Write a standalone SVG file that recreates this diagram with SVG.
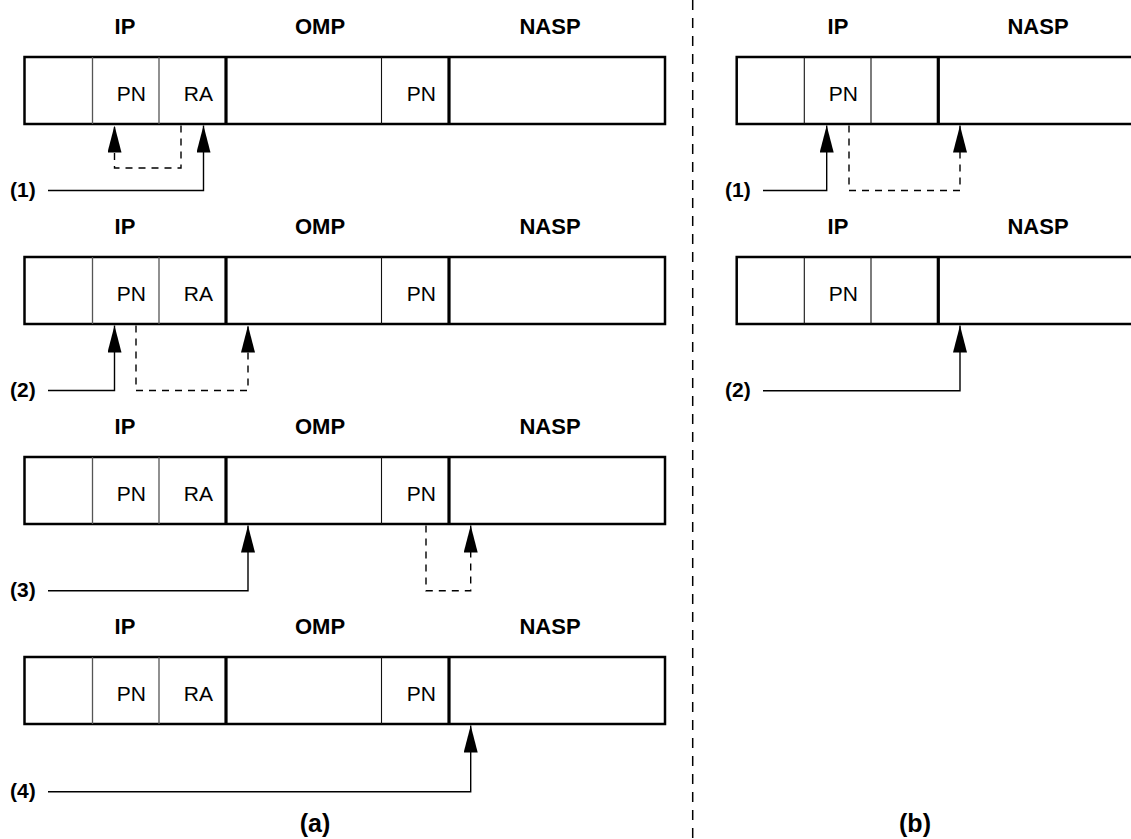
<svg xmlns="http://www.w3.org/2000/svg" width="1131" height="839" viewBox="0 0 1131 839">
<style>
.box{fill:#fff;stroke:#000;stroke-width:2.5}
.thin{stroke:#555;stroke-width:1.3}
.thinb{stroke:#111;stroke-width:1.1}
.thick{stroke:#000;stroke-width:3.2}
.lbl{font-family:"Liberation Sans",Arial,sans-serif;font-weight:bold;font-size:22px;text-anchor:middle;fill:#000}
.cell{font-family:"Liberation Sans",Arial,sans-serif;font-size:21px;text-anchor:end;fill:#000}
.num{font-family:"Liberation Sans",Arial,sans-serif;font-weight:bold;font-size:21px;fill:#000}
.cap{font-family:"Liberation Sans",Arial,sans-serif;font-weight:bold;font-size:25px;text-anchor:middle;fill:#000}
.solid{fill:none;stroke:#000;stroke-width:1.4;marker-end:url(#ah)}
.dash{fill:none;stroke:#000;stroke-width:1.4;stroke-dasharray:7 6;marker-end:url(#ah)}
.sep{stroke:#000;stroke-width:1.5;stroke-dasharray:10 8}
</style>
<defs>
<marker id="ah" viewBox="0 0 27 14" refX="27" refY="7" markerWidth="27" markerHeight="14" markerUnits="userSpaceOnUse" orient="auto">
<path d="M0,0 L27,7 L0,14 z" fill="#000"/>
</marker>
</defs>
<line class="sep" x1="692.7" y1="0" x2="692.7" y2="839"/>

<g id="a-row1">
<text class="lbl" x="125" y="34">IP</text><text class="lbl" x="320" y="34">OMP</text><text class="lbl" x="550" y="34">NASP</text>
<rect class="box" x="24.5" y="57" width="640.5" height="67"/>
<line class="thin" x1="92.5" y1="57" x2="92.5" y2="124"/><line class="thin" x1="159" y1="57" x2="159" y2="124"/><line class="thinb" x1="381.5" y1="57" x2="381.5" y2="124"/>
<line class="thick" x1="226" y1="57" x2="226" y2="124"/><line class="thick" x1="449" y1="57" x2="449" y2="124"/>
<text class="cell" x="146" y="101">PN</text><text class="cell" x="213" y="101">RA</text><text class="cell" x="436" y="101">PN</text>
</g>
<g id="a-row2">
<text class="lbl" x="125" y="234">IP</text><text class="lbl" x="320" y="234">OMP</text><text class="lbl" x="550" y="234">NASP</text>
<rect class="box" x="24.5" y="257" width="640.5" height="67"/>
<line class="thin" x1="92.5" y1="257" x2="92.5" y2="324"/><line class="thin" x1="159" y1="257" x2="159" y2="324"/><line class="thinb" x1="381.5" y1="257" x2="381.5" y2="324"/>
<line class="thick" x1="226" y1="257" x2="226" y2="324"/><line class="thick" x1="449" y1="257" x2="449" y2="324"/>
<text class="cell" x="146" y="301">PN</text><text class="cell" x="213" y="301">RA</text><text class="cell" x="436" y="301">PN</text>
</g>
<g id="a-row3">
<text class="lbl" x="125" y="434">IP</text><text class="lbl" x="320" y="434">OMP</text><text class="lbl" x="550" y="434">NASP</text>
<rect class="box" x="24.5" y="457" width="640.5" height="67"/>
<line class="thin" x1="92.5" y1="457" x2="92.5" y2="524"/><line class="thin" x1="159" y1="457" x2="159" y2="524"/><line class="thinb" x1="381.5" y1="457" x2="381.5" y2="524"/>
<line class="thick" x1="226" y1="457" x2="226" y2="524"/><line class="thick" x1="449" y1="457" x2="449" y2="524"/>
<text class="cell" x="146" y="501">PN</text><text class="cell" x="213" y="501">RA</text><text class="cell" x="436" y="501">PN</text>
</g>
<g id="a-row4">
<text class="lbl" x="125" y="634">IP</text><text class="lbl" x="320" y="634">OMP</text><text class="lbl" x="550" y="634">NASP</text>
<rect class="box" x="24.5" y="657" width="640.5" height="67"/>
<line class="thin" x1="92.5" y1="657" x2="92.5" y2="724"/><line class="thin" x1="159" y1="657" x2="159" y2="724"/><line class="thinb" x1="381.5" y1="657" x2="381.5" y2="724"/>
<line class="thick" x1="226" y1="657" x2="226" y2="724"/><line class="thick" x1="449" y1="657" x2="449" y2="724"/>
<text class="cell" x="146" y="701">PN</text><text class="cell" x="213" y="701">RA</text><text class="cell" x="436" y="701">PN</text>
</g>

<g id="b-row1">
<text class="lbl" x="838" y="34">IP</text><text class="lbl" x="1038" y="34">NASP</text>
<rect class="box" x="736.7" y="57" width="420" height="67"/>
<line class="thinb" x1="804.3" y1="57" x2="804.3" y2="124"/><line class="thinb" x1="871" y1="57" x2="871" y2="124"/>
<line class="thick" x1="938.3" y1="57" x2="938.3" y2="124"/>
<text class="cell" x="858" y="101">PN</text>
</g>
<g id="b-row2">
<text class="lbl" x="838" y="234">IP</text><text class="lbl" x="1038" y="234">NASP</text>
<rect class="box" x="736.7" y="257" width="420" height="67"/>
<line class="thinb" x1="804.3" y1="257" x2="804.3" y2="324"/><line class="thinb" x1="871" y1="257" x2="871" y2="324"/>
<line class="thick" x1="938.3" y1="257" x2="938.3" y2="324"/>
<text class="cell" x="858" y="301">PN</text>
</g>

<g id="step-labels">
<text class="num" x="10" y="197">(1)</text>
<text class="num" x="10" y="397">(2)</text>
<text class="num" x="10" y="597">(3)</text>
<text class="num" x="10" y="798">(4)</text>
<text class="num" x="725" y="197">(1)</text>
<text class="num" x="725" y="397">(2)</text>
<text class="cap" x="315" y="832">(a)</text>
<text class="cap" x="915" y="832">(b)</text>
</g>

<g id="connectors">
<path class="solid" d="M48,190.5 H203.5 V125.5"/>
<path class="dash" d="M181,125.5 V168 H114.5 V125.5"/>
<path class="solid" d="M48,390.5 H114.5 V325.5"/>
<path class="dash" d="M136,325.5 V390.5 H248 V325.5"/>
<path class="solid" d="M48,590.7 H248 V525.5"/>
<path class="dash" d="M426,525.5 V590.7 H470.7 V525.5"/>
<path class="solid" d="M48,791.7 H470.7 V725.5"/>
<path class="solid" d="M763,190.5 H826.7 V125.5"/>
<path class="dash" d="M849,125.5 V190.5 H960 V125.5"/>
<path class="solid" d="M763,390.7 H960 V325.5"/>
</g>
</svg>
